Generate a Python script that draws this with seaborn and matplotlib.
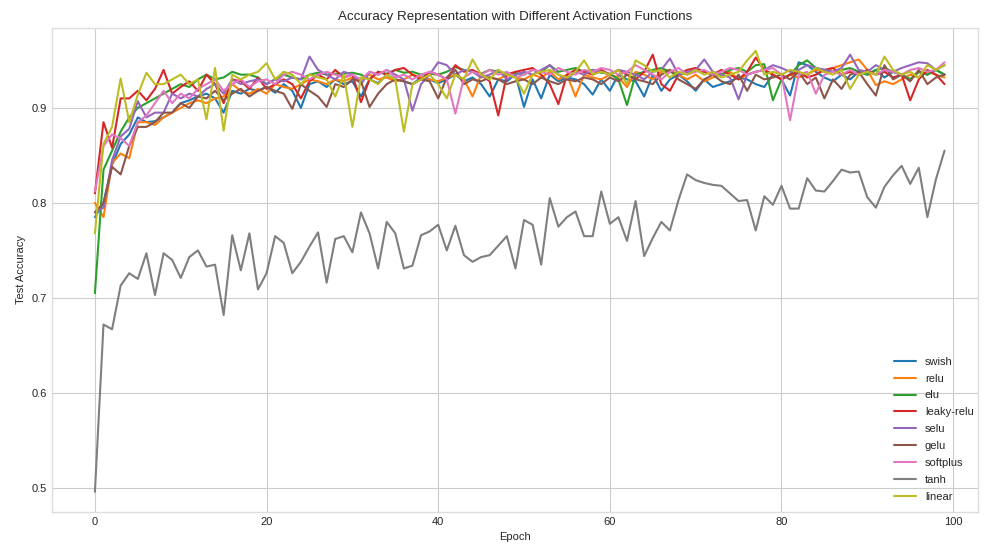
import numpy as np
import pandas as pd
import matplotlib
matplotlib.use("Agg")
import matplotlib.pyplot as plt
import seaborn as sns

epochs = list(range(100))

swish = [0.785, 0.800, 0.840, 0.862, 0.872, 0.890, 0.885, 0.886, 0.890, 0.895,
         0.905, 0.908, 0.912, 0.915, 0.910, 0.895, 0.918, 0.915, 0.920, 0.918,
         0.922, 0.916, 0.925, 0.918, 0.900, 0.925, 0.928, 0.922, 0.930, 0.925,
         0.928, 0.912, 0.930, 0.926, 0.935, 0.930, 0.928, 0.925, 0.932, 0.930,
         0.926, 0.930, 0.935, 0.928, 0.932, 0.925, 0.912, 0.930, 0.928, 0.935,
         0.901, 0.930, 0.910, 0.935, 0.928, 0.932, 0.930, 0.925, 0.914, 0.930,
         0.918, 0.935, 0.930, 0.928, 0.912, 0.935, 0.918, 0.930, 0.935, 0.928,
         0.918, 0.930, 0.922, 0.925, 0.928, 0.932, 0.930, 0.925, 0.922, 0.935,
         0.930, 0.913, 0.948, 0.945, 0.938, 0.932, 0.928, 0.935, 0.930, 0.938,
         0.935, 0.940, 0.932, 0.938, 0.935, 0.930, 0.938, 0.935, 0.940, 0.935]

relu = [0.800, 0.785, 0.842, 0.852, 0.847, 0.885, 0.885, 0.882, 0.890, 0.895,
        0.900, 0.905, 0.908, 0.905, 0.910, 0.912, 0.925, 0.918, 0.915, 0.920,
        0.915, 0.925, 0.922, 0.920, 0.925, 0.930, 0.928, 0.925, 0.930, 0.928,
        0.932, 0.930, 0.935, 0.930, 0.932, 0.928, 0.930, 0.935, 0.932, 0.930,
        0.928, 0.932, 0.935, 0.930, 0.912, 0.935, 0.932, 0.930, 0.935, 0.932,
        0.930, 0.935, 0.932, 0.938, 0.930, 0.935, 0.912, 0.935, 0.932, 0.930,
        0.935, 0.932, 0.922, 0.938, 0.935, 0.930, 0.938, 0.940, 0.935, 0.930,
        0.935, 0.928, 0.932, 0.935, 0.938, 0.930, 0.935, 0.938, 0.940, 0.935,
        0.930, 0.935, 0.932, 0.935, 0.940, 0.938, 0.942, 0.945, 0.948, 0.951,
        0.940, 0.924, 0.928, 0.925, 0.930, 0.935, 0.932, 0.938, 0.935, 0.932]

elu = [0.705, 0.835, 0.855, 0.875, 0.890, 0.900, 0.905, 0.910, 0.915, 0.920,
       0.925, 0.922, 0.930, 0.935, 0.930, 0.932, 0.938, 0.935, 0.935, 0.932,
       0.925, 0.930, 0.935, 0.932, 0.930, 0.935, 0.937, 0.935, 0.936, 0.936,
       0.937, 0.935, 0.930, 0.938, 0.936, 0.940, 0.937, 0.938, 0.935, 0.936,
       0.935, 0.938, 0.943, 0.940, 0.938, 0.936, 0.940, 0.938, 0.935, 0.937,
       0.935, 0.940, 0.938, 0.945, 0.938, 0.940, 0.942, 0.938, 0.940, 0.937,
       0.936, 0.930, 0.903, 0.935, 0.938, 0.940, 0.942, 0.938, 0.935, 0.937,
       0.940, 0.938, 0.936, 0.935, 0.940, 0.942, 0.938, 0.945, 0.946, 0.908,
       0.930, 0.935, 0.945, 0.950, 0.942, 0.940, 0.938, 0.940, 0.942, 0.938,
       0.935, 0.940, 0.942, 0.938, 0.935, 0.930, 0.938, 0.935, 0.940, 0.935]

leaky_relu = [0.810, 0.885, 0.858, 0.910, 0.910, 0.918, 0.908, 0.920, 0.940, 0.915,
              0.922, 0.928, 0.918, 0.935, 0.925, 0.905, 0.930, 0.928, 0.920, 0.932,
              0.920, 0.925, 0.930, 0.925, 0.910, 0.928, 0.935, 0.930, 0.940, 0.932,
              0.935, 0.906, 0.930, 0.938, 0.935, 0.940, 0.942, 0.935, 0.930, 0.938,
              0.935, 0.930, 0.945, 0.938, 0.940, 0.935, 0.928, 0.892, 0.935, 0.938,
              0.940, 0.942, 0.935, 0.925, 0.904, 0.935, 0.940, 0.938, 0.935, 0.940,
              0.935, 0.940, 0.935, 0.930, 0.938, 0.956, 0.925, 0.918, 0.935, 0.940,
              0.942, 0.938, 0.935, 0.940, 0.935, 0.930, 0.938, 0.953, 0.940, 0.935,
              0.930, 0.935, 0.938, 0.932, 0.935, 0.940, 0.942, 0.935, 0.938, 0.935,
              0.940, 0.935, 0.938, 0.932, 0.935, 0.908, 0.930, 0.940, 0.935, 0.925]

selu = [0.790, 0.795, 0.845, 0.870, 0.878, 0.907, 0.890, 0.895, 0.895, 0.915,
        0.910, 0.915, 0.912, 0.920, 0.925, 0.915, 0.930, 0.925, 0.928, 0.930,
        0.925, 0.930, 0.928, 0.932, 0.930, 0.954, 0.940, 0.935, 0.930, 0.938,
        0.935, 0.925, 0.938, 0.935, 0.940, 0.935, 0.930, 0.897, 0.925, 0.935,
        0.948, 0.945, 0.935, 0.940, 0.938, 0.932, 0.935, 0.940, 0.930, 0.935,
        0.938, 0.935, 0.940, 0.945, 0.935, 0.930, 0.938, 0.935, 0.940, 0.938,
        0.935, 0.940, 0.938, 0.935, 0.930, 0.938, 0.940, 0.952, 0.935, 0.938,
        0.940, 0.951, 0.938, 0.935, 0.932, 0.909, 0.935, 0.938, 0.940, 0.945,
        0.942, 0.938, 0.940, 0.945, 0.942, 0.940, 0.938, 0.942, 0.956, 0.940,
        0.938, 0.945, 0.940, 0.938, 0.942, 0.945, 0.948, 0.947, 0.940, 0.945]

gelu = [0.790, 0.800, 0.838, 0.830, 0.860, 0.880, 0.880, 0.885, 0.895, 0.895,
        0.905, 0.900, 0.912, 0.910, 0.918, 0.908, 0.915, 0.920, 0.912, 0.918,
        0.922, 0.918, 0.915, 0.899, 0.925, 0.918, 0.912, 0.901, 0.925, 0.922,
        0.930, 0.928, 0.901, 0.915, 0.925, 0.930, 0.928, 0.925, 0.930, 0.928,
        0.910, 0.932, 0.940, 0.925, 0.930, 0.928, 0.932, 0.930, 0.925, 0.928,
        0.930, 0.925, 0.932, 0.928, 0.925, 0.930, 0.928, 0.932, 0.930, 0.925,
        0.932, 0.928, 0.935, 0.930, 0.928, 0.925, 0.935, 0.940, 0.930, 0.925,
        0.920, 0.930, 0.935, 0.928, 0.925, 0.935, 0.918, 0.935, 0.930, 0.932,
        0.935, 0.930, 0.938, 0.925, 0.932, 0.910, 0.930, 0.920, 0.935, 0.938,
        0.925, 0.913, 0.945, 0.930, 0.935, 0.928, 0.940, 0.925, 0.932, 0.935]

softplus = [0.812, 0.860, 0.872, 0.868, 0.860, 0.885, 0.892, 0.905, 0.918, 0.905,
            0.915, 0.910, 0.920, 0.925, 0.930, 0.918, 0.925, 0.930, 0.922, 0.928,
            0.930, 0.925, 0.935, 0.938, 0.935, 0.930, 0.935, 0.938, 0.935, 0.932,
            0.935, 0.930, 0.938, 0.935, 0.940, 0.932, 0.935, 0.930, 0.935, 0.938,
            0.935, 0.930, 0.894, 0.932, 0.938, 0.935, 0.940, 0.935, 0.938, 0.932,
            0.935, 0.940, 0.938, 0.935, 0.942, 0.938, 0.935, 0.940, 0.938, 0.942,
            0.940, 0.935, 0.938, 0.945, 0.940, 0.935, 0.930, 0.938, 0.942, 0.935,
            0.938, 0.940, 0.935, 0.938, 0.942, 0.940, 0.935, 0.938, 0.940, 0.942,
            0.935, 0.887, 0.935, 0.938, 0.915, 0.935, 0.938, 0.935, 0.940, 0.935,
            0.938, 0.935, 0.940, 0.938, 0.935, 0.940, 0.942, 0.938, 0.940, 0.948]

tanh = [0.496, 0.672, 0.667, 0.713, 0.726, 0.720, 0.747, 0.703, 0.747, 0.740,
        0.721, 0.743, 0.750, 0.733, 0.735, 0.682, 0.766, 0.729, 0.768, 0.709,
        0.726, 0.765, 0.758, 0.726, 0.738, 0.754, 0.769, 0.716, 0.762, 0.765,
        0.748, 0.790, 0.768, 0.731, 0.780, 0.768, 0.731, 0.734, 0.766, 0.770,
        0.777, 0.750, 0.776, 0.745, 0.738, 0.743, 0.745, 0.755, 0.765, 0.731,
        0.782, 0.777, 0.735, 0.805, 0.775, 0.785, 0.791, 0.765, 0.765, 0.812,
        0.778, 0.785, 0.760, 0.802, 0.744, 0.763, 0.780, 0.771, 0.803, 0.830,
        0.824, 0.821, 0.819, 0.818, 0.810, 0.802, 0.803, 0.771, 0.807, 0.798,
        0.818, 0.794, 0.794, 0.826, 0.813, 0.812, 0.823, 0.835, 0.832, 0.833,
        0.806, 0.795, 0.817, 0.829, 0.839, 0.820, 0.837, 0.785, 0.825, 0.855]

linear = [0.768, 0.862, 0.880, 0.931, 0.885, 0.914, 0.937, 0.925, 0.925, 0.930,
          0.935, 0.925, 0.930, 0.888, 0.942, 0.876, 0.935, 0.930, 0.935, 0.938,
          0.947, 0.930, 0.938, 0.935, 0.925, 0.935, 0.932, 0.930, 0.912, 0.935,
          0.880, 0.932, 0.930, 0.925, 0.935, 0.930, 0.875, 0.925, 0.930, 0.935,
          0.925, 0.910, 0.935, 0.930, 0.951, 0.935, 0.930, 0.940, 0.935, 0.932,
          0.915, 0.935, 0.938, 0.940, 0.935, 0.932, 0.938, 0.950, 0.935, 0.938,
          0.935, 0.940, 0.925, 0.950, 0.945, 0.938, 0.940, 0.932, 0.938, 0.935,
          0.940, 0.935, 0.938, 0.932, 0.935, 0.938, 0.950, 0.960, 0.935, 0.938,
          0.935, 0.940, 0.938, 0.935, 0.942, 0.938, 0.935, 0.940, 0.920, 0.935,
          0.938, 0.935, 0.954, 0.940, 0.935, 0.938, 0.932, 0.945, 0.940, 0.945]

names = ["swish", "relu", "elu", "leaky-relu", "selu", "gelu", "softplus", "tanh", "linear"]
series = [swish, relu, elu, leaky_relu, selu, gelu, softplus, tanh, linear]

frames = [pd.DataFrame({"Epoch": epochs, "Test Accuracy": vals, "Activation": name})
          for name, vals in zip(names, series)]
df = pd.concat(frames, ignore_index=True)

plt.style.use("seaborn-v0_8-whitegrid")
plt.rcParams["font.family"] = ["Liberation Sans", "DejaVu Sans"]

fig = plt.figure(figsize=(9.85, 5.47), dpi=100)
ax = fig.add_axes([0.0528, 0.064, 0.9401, 0.885])

palette = sns.color_palette("tab10", 9)
sns.lineplot(data=df, x="Epoch", y="Test Accuracy", hue="Activation",
             hue_order=names, palette=palette, linewidth=1.5, ax=ax)

ax.set_xlim(-5.0, 102.9)
ax.set_ylim(0.4747, 0.9842)
ax.set_title("Accuracy Representation with Different Activation Functions", fontsize=9.6)
ax.set_xlabel("Epoch", fontsize=8)
ax.set_ylabel("Test Accuracy", fontsize=8)
ax.tick_params(labelsize=8)
for s in ax.spines.values():
    s.set_visible(True)
    s.set_color("#dddddd")
ax.legend(loc="lower right", fontsize=8, frameon=False, title=None,
          labelspacing=0.62, borderaxespad=0.0, bbox_to_anchor=(1.0, 0.012))

fig.savefig("out.png", dpi=100)
